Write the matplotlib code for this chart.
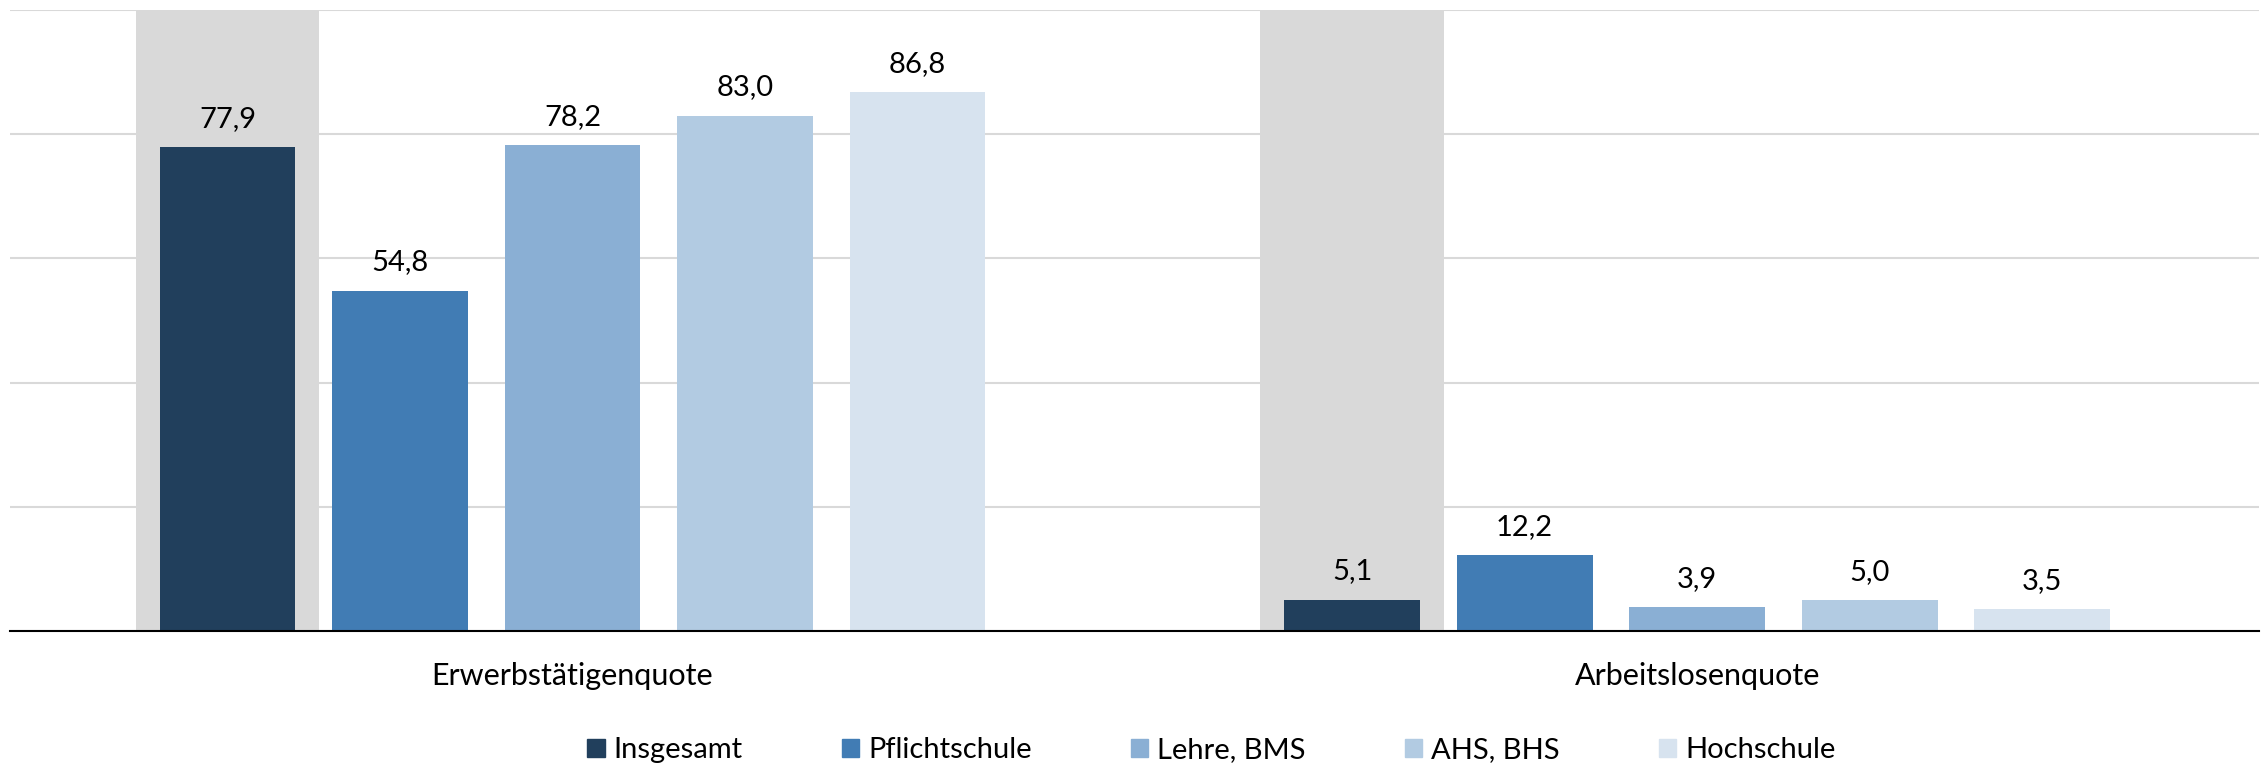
import matplotlib
matplotlib.use("Agg")
import matplotlib.pyplot as plt
from matplotlib.patches import Patch

# Daten
categories = ["Erwerbstätigenquote", "Arbeitslosenquote"]
series = ["Insgesamt", "Pflichtschule", "Lehre, BMS", "AHS, BHS", "Hochschule"]
insgesamt = [77.9, 5.1]
pflichtschule = [54.8, 12.2]
lehre_bms = [78.2, 3.9]
ahs_bhs = [83.0, 5.0]
hochschule = [86.8, 3.5]
highlight = [100, 100]  # grauer Hintergrund hinter "Insgesamt"

values = [insgesamt, pflichtschule, lehre_bms, ahs_bhs, hochschule]
colors = ["#213F5C", "#417CB4", "#8AAFD4", "#B2CBE2", "#D7E3EF"]

plt.rcParams["font.family"] = ["Lato", "DejaVu Sans"]

fig = plt.figure(figsize=(22.64, 7.67), dpi=100)
ax = fig.add_axes([0.0045, 0.177, 0.9935, 0.81])

x = range(len(categories))
pitch = 0.1534
bar_w = 0.1207

# grauer Hintergrundbalken
ax.bar([c - 2 * pitch for c in x], highlight, width=0.163, color="#D9D9D9",
       zorder=2, clip_on=False)

for i, (name, vals, col) in enumerate(zip(series, values, colors)):
    pos = [c + (i - 2) * pitch for c in x]
    bars = ax.bar(pos, vals, width=bar_w, color=col, zorder=3, label=name)
    for b, v in zip(bars, vals):
        ax.annotate(f"{v:.1f}".replace(".", ","),
                    (b.get_x() + b.get_width() / 2, v),
                    xytext=(0, 11), textcoords="offset points",
                    ha="center", va="bottom", fontsize=21, color="black",
                    zorder=4)

ax.set_xlim(-0.5, 1.5)
ax.set_ylim(0, 100)
ax.set_yticks([0, 20, 40, 60, 80, 100])
ax.yaxis.grid(True, color="#D9D9D9", linewidth=1.5, zorder=0)
ax.set_axisbelow(True)
ax.tick_params(axis="y", left=False, labelleft=False)
ax.tick_params(axis="x", bottom=False, labelsize=22, pad=19)
ax.set_xticks(list(x))
ax.set_xticklabels(categories)
for s in ["top", "right", "left"]:
    ax.spines[s].set_visible(False)
ax.spines["bottom"].set_color("black")
ax.spines["bottom"].set_linewidth(1.5)
ax.spines["bottom"].set_zorder(5)

handles = [Patch(color=c, label=s) for s, c in zip(series, colors)]
fig.legend(handles=handles, loc="center", bbox_to_anchor=(0.535, 0.022),
           ncol=5, frameon=False, fontsize=21, handlelength=0.6,
           handleheight=0.6, handletextpad=0.3, columnspacing=3.4)

fig.savefig("out.png", dpi=100)
